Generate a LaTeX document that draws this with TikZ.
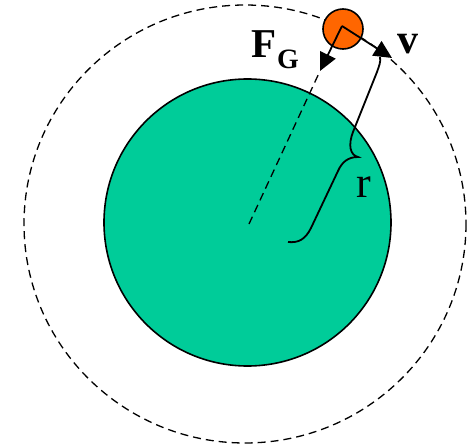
\documentclass[tikz,border=0pt]{standalone}
\usepackage{fontspec}
\setmainfont{Liberation Serif}
\usetikzlibrary{arrows.meta}
\definecolor{earthgreen}{HTML}{00CC99}
\definecolor{satorange}{HTML}{FF6600}
\tikzset{
  outline/.style={line width=1.6pt},
  orbitline/.style={line width=1.3pt, dash pattern=on 8pt off 5pt},
  vec/.style={line width=1.8pt, -{Triangle[length=18pt,width=17pt]}},
  lbl/.style={inner sep=0pt, anchor=base west}
}
\begin{document}
\begin{tikzpicture}[x=1pt,y=-1pt]
\useasboundingbox (0,0) rectangle (467,447);
% orbit
\draw[orbitline] (245,224) ellipse [x radius=221, y radius=219];
% earth
\node[circle, draw, outline, fill=earthgreen, minimum size=287pt, inner sep=0pt] (earth) at (247.5,222.5) {};
\coordinate (ec) at (249,224);
% satellite
\node[circle, draw, outline, fill=satorange, minimum size=40pt, inner sep=0pt] (sat) at (343,29) {};
\coordinate (sc) at (342,26);
\coordinate (fgtip) at (320,71);
\coordinate (vtip) at (392,58);
% radius dashed
\draw[orbitline] (ec) -- (fgtip);
% vectors
\draw[vec] (sc) -- (fgtip);
\draw[vec] (sc) -- (vtip);
% brace
\draw[line width=1.8pt] (380,57) .. controls (381,62) and (379,66) .. (377,72) -- (353,132)
  .. controls (348,145) and (350,155) .. (358,157)
  .. controls (348,157) and (342,162) .. (338,171) -- (311,228)
  .. controls (305,240) and (298,243) .. (288,242);
% labels
\node[lbl, font=\fontsize{41}{41}\selectfont\bfseries] (F) at (251,57) {F};
\node[lbl, font=\fontsize{28}{28}\selectfont\bfseries] (G) at (277,68) {G};
\node[lbl, font=\fontsize{42}{42}\selectfont\bfseries] (v) at (397,53) {v};
\node[lbl, font=\fontsize{44}{44}\selectfont] (r) at (356,197) {r};
\end{tikzpicture}
\end{document}
